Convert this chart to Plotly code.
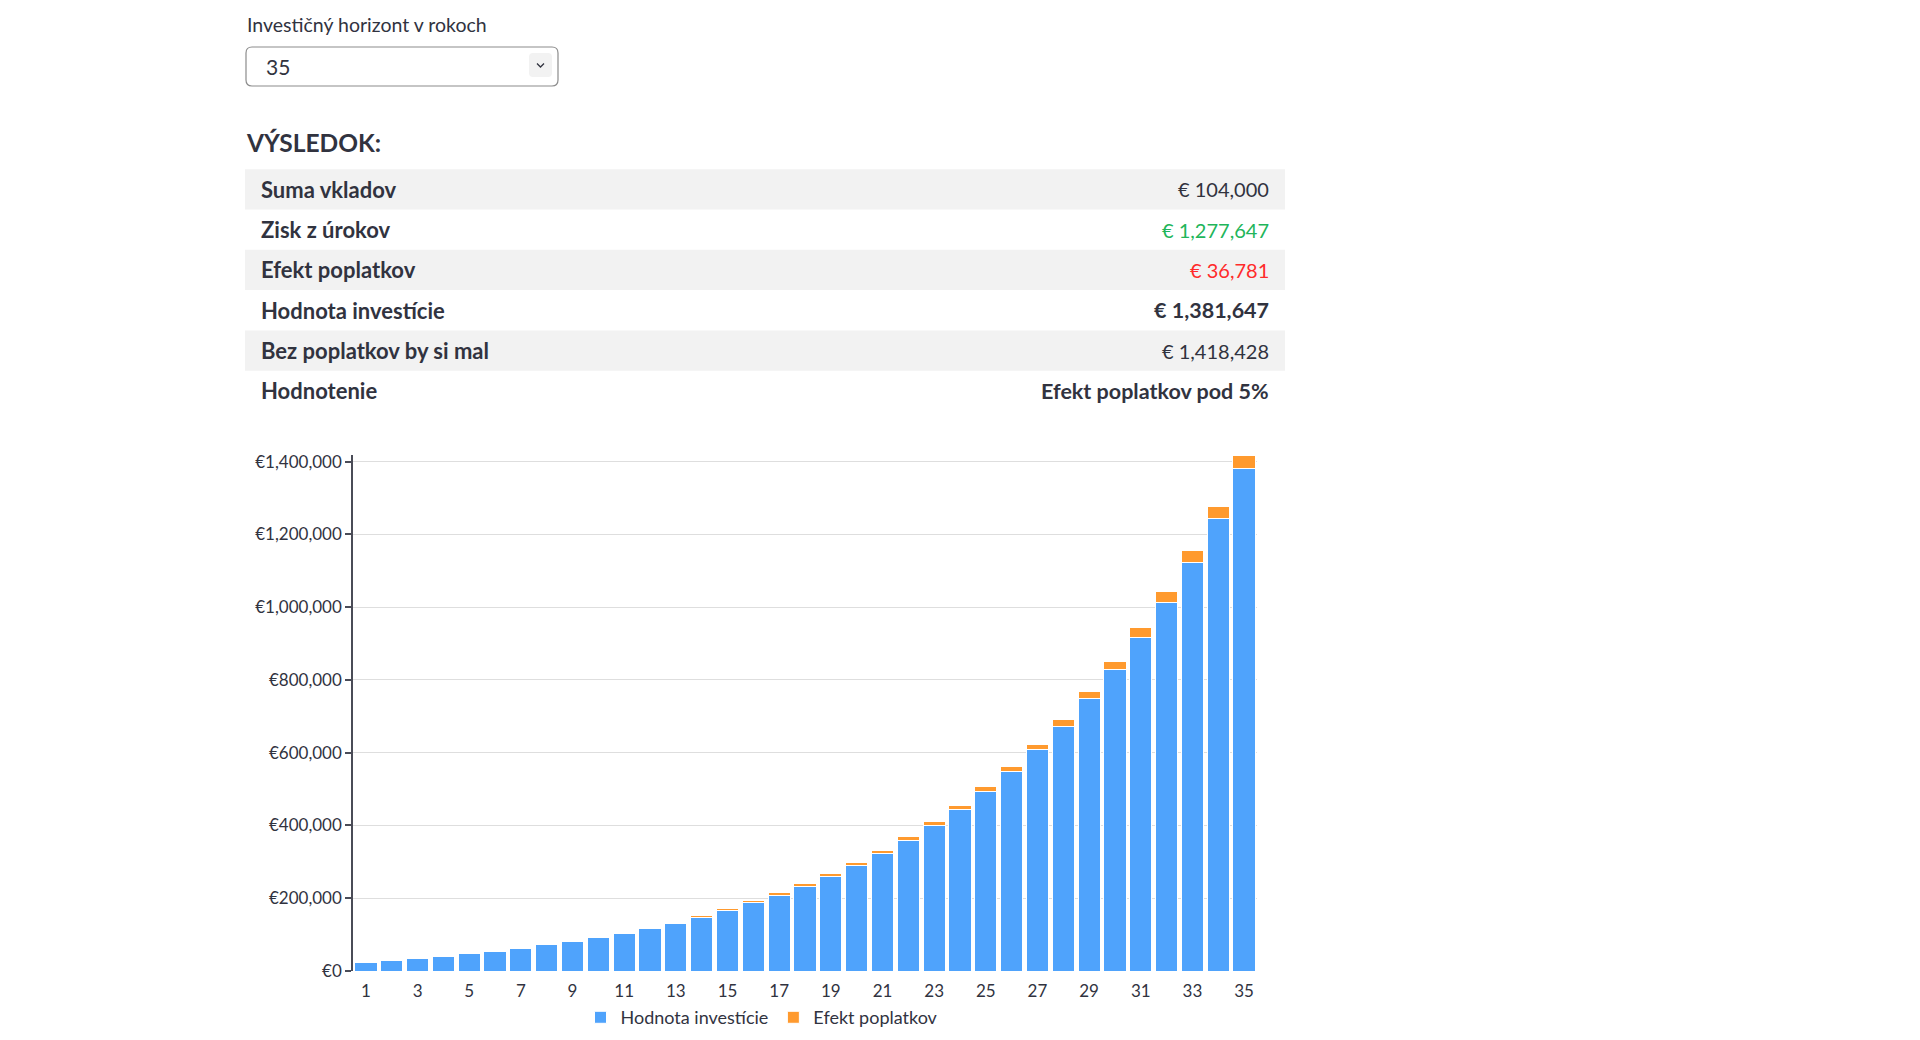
import plotly.graph_objects as go

# roky investicneho horizontu
roky = list(range(1, 36))
# hodnota investicie po poplatkoch (modre)
hodnota = [24000, 28500, 34600, 40000, 47200, 54500, 62700, 71700, 81000, 92000,
           104000, 117000, 131700, 146800, 167000, 187500, 208500, 233500, 259500, 289000,
           322000, 359000, 400000, 444000, 493000, 548000, 609000, 672000, 748000, 827500,
           918000, 1014000, 1124000, 1244500, 1381647]
# efekt poplatkov (oranzove)
efekt = [1500, 1600, 500, 1800, 800, 900, 1100, 1300, 2400, 2600,
         2800, 3200, 1500, 4500, 4500, 5000, 6000, 6500, 8000, 8500,
         10500, 10000, 10500, 12000, 13500, 15500, 15000, 20000, 21500, 24000,
         25500, 29000, 31000, 33500, 36781]

row_labels = ["Suma vkladov", "Zisk z úrokov", "Efekt poplatkov", "Hodnota investície",
              "Bez poplatkov by si mal", "Hodnotenie"]
row_values = ["€ 104,000", "€ 1,277,647", "€ 36,781", "€ 1,381,647", "€ 1,418,428",
              "Efekt poplatkov pod 5%"]
row_colors = ["#31333F", "#21b55a", "#ff2b2b", "#31333F", "#31333F", "#31333F"]
row_bold = [False, False, False, True, False, True]

horizont = "35"

BLUE = "#4FA3FC"
ORANGE = "#FF9A2E"
TEXT = "#31333F"
FONT = "Lato"

# figure size (page body has 8px margin)
W, H, OFF = 1904, 1024, 8


def px(x):
    return (x - OFF) / W


def py(y):
    return 1 - (y - OFF) / H


def rounded(x0, y0, x1, y1, r):
    return ("M {a},{b} L {c},{b} Q {d},{b} {d},{e} L {d},{f} Q {d},{g} {c},{g} "
            "L {a},{g} Q {h},{g} {h},{f} L {h},{e} Q {h},{b} {a},{b} Z").format(
        a=px(x0 + r), b=py(y0), c=px(x1 - r), d=px(x1), e=py(y0 + r),
        f=py(y1 - r), g=py(y1), h=px(x0))


fig = go.Figure()
fig.add_trace(go.Bar(x=roky, y=hodnota, name="Hodnota investície",
                     marker=dict(color=BLUE, line=dict(color="white", width=1))))
fig.add_trace(go.Bar(x=roky, y=efekt, name="Efekt poplatkov",
                     marker=dict(color=ORANGE, line=dict(color="white", width=1))))

shapes = []
annotations = []

# selectbox
annotations.append(dict(text="Investičný horizont v rokoch", x=px(245), y=py(24), xref="paper", yref="paper",
                        xanchor="left", yanchor="middle", showarrow=False,
                        font=dict(family=FONT, size=19.5, color=TEXT)))
shapes.append(dict(type="path", path=rounded(246, 47, 558, 86, 6), xref="paper", yref="paper",
                   line=dict(color="#8c8c8c", width=1.2), fillcolor="white"))
shapes.append(dict(type="path", path=rounded(529, 53, 552, 77, 4), xref="paper", yref="paper",
                   line=dict(width=0), fillcolor="#f2f2f2"))
shapes.append(dict(type="path", path="M {},{} L {},{} L {},{}".format(px(537), py(63.5), px(540.5), py(67), px(544), py(63.5)),
                   xref="paper", yref="paper", line=dict(color=TEXT, width=1.3)))
annotations.append(dict(text=horizont, x=px(264), y=py(66), xref="paper", yref="paper",
                        xanchor="left", yanchor="middle", showarrow=False,
                        font=dict(family=FONT, size=21, color=TEXT)))

# vysledok
annotations.append(dict(text="<b>VÝSLEDOK:</b>", x=px(244), y=py(142), xref="paper", yref="paper",
                        xanchor="left", yanchor="middle", showarrow=False,
                        font=dict(family=FONT, size=24.5, color=TEXT)))

top0, row_h = 169.2, 40.3
for i in range(len(row_labels)):
    y0 = top0 + i * row_h
    if i % 2 == 0:
        shapes.append(dict(type="rect", x0=px(245), x1=px(1285), y0=py(y0), y1=py(y0 + row_h),
                           xref="paper", yref="paper", line=dict(width=0), fillcolor="#f2f2f2",
                           layer="below"))
    annotations.append(dict(text="<b>" + row_labels[i] + "</b>", x=px(259), y=py(y0 + row_h / 2),
                            xref="paper", yref="paper", xanchor="left", yanchor="middle",
                            showarrow=False, font=dict(family=FONT, size=22, color=TEXT)))
    if row_bold[i]:
        val = "<b>" + row_values[i] + "</b>"
        size = 21.5
    else:
        val = row_values[i]
        size = 20
    annotations.append(dict(text=val, x=px(1271), y=py(y0 + row_h / 2),
                            xref="paper", yref="paper", xanchor="right", yanchor="middle",
                            showarrow=False, font=dict(family=FONT, size=size, color=row_colors[i])))

fig.update_layout(
    template="none",
    width=W, height=H,
    margin=dict(l=0, r=0, t=0, b=0, autoexpand=False),
    paper_bgcolor="white",
    plot_bgcolor="white",
    barmode="stack",
    bargap=0.14,
    font=dict(family=FONT, color=TEXT),
    shapes=shapes,
    annotations=annotations,
    showlegend=True,
    legend=dict(orientation="h", x=px(762), xanchor="center", y=-0.004, yanchor="bottom",
                traceorder="normal", font=dict(family=FONT, size=18, color=TEXT),
                bgcolor="rgba(0,0,0,0)"),
    xaxis=dict(domain=[px(353), px(1257)], range=[0.5, 35.5], tick0=1, dtick=2,
               showgrid=False, zeroline=False, showline=False, ticks="outside",
               ticklen=5, tickcolor="rgba(0,0,0,0)", tickfont=dict(family=FONT, size=17, color=TEXT),
               automargin=False, fixedrange=True),
    yaxis=dict(domain=[py(971), py(455)], range=[0, 1418428], dtick=200000, tickprefix="€",
               tickformat=",", showgrid=True, gridcolor="#dedede", gridwidth=1.3, zeroline=False,
               showline=True, linecolor="#4a4c57", linewidth=1.5, ticks="outside", ticklen=6,
               tickwidth=1.5, tickcolor="#4a4c57", tickfont=dict(family=FONT, size=17, color=TEXT),
               automargin=False, fixedrange=True),
)

fig.write_html("out.html")
